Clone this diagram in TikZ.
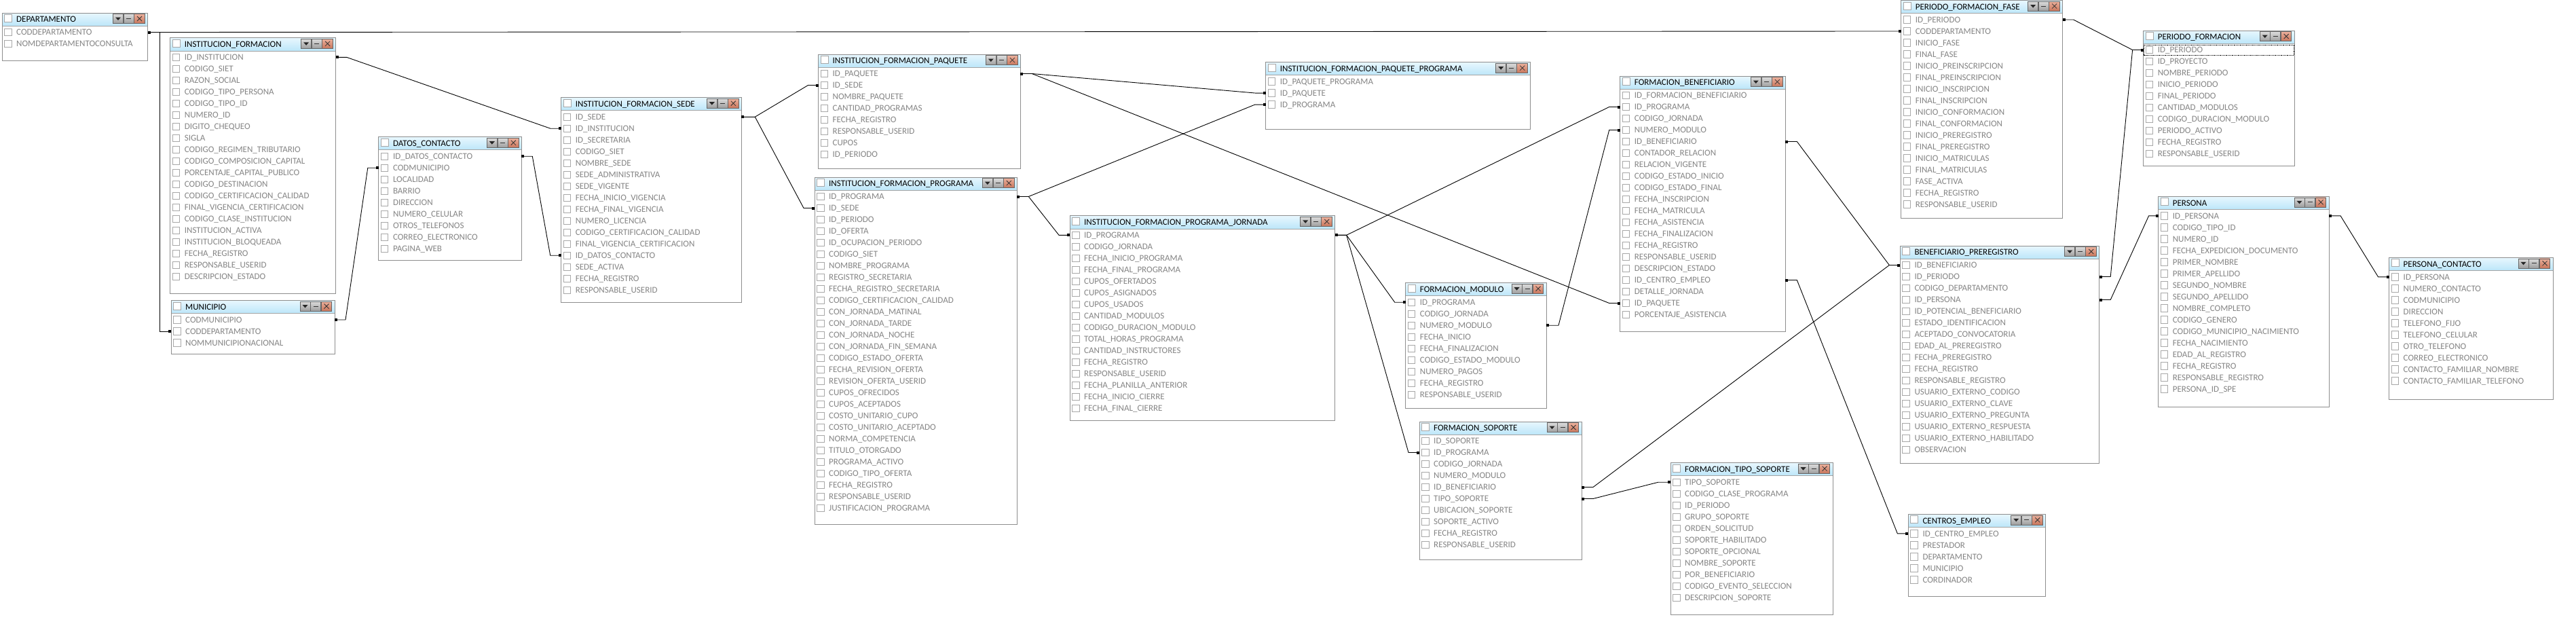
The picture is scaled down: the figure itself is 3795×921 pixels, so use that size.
\documentclass[tikz,border=0pt]{standalone}
\usepackage{fontspec}
\setmainfont{Carlito}
\usepackage{tikz}
\usetikzlibrary{arrows.meta, calc}
\definecolor{hdtop}{HTML}{E8F7FE}
\definecolor{hdbot}{HTML}{BCE6F9}
\definecolor{framegray}{HTML}{8E8E8E}
\definecolor{fieldgray}{HTML}{858585}
\definecolor{boxgray}{HTML}{A8A8A8}
\definecolor{btntop}{HTML}{DCDCDC}
\definecolor{btnbot}{HTML}{9E9E9E}
\definecolor{closetop}{HTML}{EBB09C}
\definecolor{closebot}{HTML}{C8765C}
\catcode`\_=12

\tikzset{
  tabframe/.style={draw=framegray, line width=1pt},
  chkbox/.style={draw=boxgray, line width=0.8pt, fill=white},
  fieldtext/.style={font=\fontsize{13}{15}\selectfont, text=fieldgray, inner sep=0pt, anchor=base west},
  titletext/.style={font=\fontsize{13}{15}\selectfont, text=black, inner sep=0pt, anchor=base west},
  btn/.style={draw=black!60, line width=0.6pt, top color=btntop, bottom color=btnbot},
  closebtn/.style={draw=black!60, line width=0.6pt, top color=closetop, bottom color=closebot},
  rel/.style={line width=0.9pt, >={Square[length=4pt,width=4pt]}, <->},
}

% table: id, left, top, right, bottom, title, fields
\newcommand{\dbtable}[7]{%
  \fill[white] (#2,#3) rectangle (#4,#5);
  \shade[top color=hdtop, bottom color=hdbot] (#2,#3) rectangle (#4,{#3+19});
  \draw[framegray!80, line width=0.6pt] (#2,{#3+19}) -- (#4,{#3+19});
  \draw[tabframe] (#2,#3) rectangle (#4,#5);
  \draw[chkbox] ({#2+3.5},{#3+2.5}) rectangle +(11,11);
  \node[titletext] (#1-title) at ({#2+21},{#3+13.8}) {#6};
  % window buttons
  \draw[btn] ({#4-51},{#3+1.5}) rectangle +(15,14);
  \draw[btn] ({#4-35.5},{#3+1.5}) rectangle +(15,14);
  \draw[closebtn] ({#4-20},{#3+1.5}) rectangle +(15.5,14);
  \fill[black!85] ({#4-47.5},{#3+6.5}) -- ++(8,0) -- ++(-4,4.5) -- cycle;
  \draw[black!80, line width=1pt] ({#4-31.5},{#3+8.5}) -- ++(7,0);
  \draw[black!80, line width=0.8pt] ({#4-15.5},{#3+5}) -- ++(7,7) ({#4-8.5},{#3+5}) -- ++(-7,7);
  % fields
  \foreach \f [count=\i] in {#7} {
    \draw[chkbox] ({#2+3.5},{#3+23.2+17*(\i-1)}) rectangle +(10.5,10.5);
    \node[fieldtext] (#1-\i) at ({#2+21},{#3+32.7+17*(\i-1)}) {\f};
    \coordinate (#1-\i-l) at (#2,{#3+28.5+17*(\i-1)});
    \coordinate (#1-\i-r) at (#4,{#3+28.5+17*(\i-1)});
  }
}

\begin{document}
\begin{tikzpicture}[x=1pt, y=-1pt]
    \useasboundingbox (0,0) rectangle (3795,921);
    \fill[white] (0,0) rectangle (3795,921);
    % Tables
    \dbtable{depto}{3}{19}{217.5}{89.5}{DEPARTAMENTO}{CODDEPARTAMENTO,NOMDEPARTAMENTOCONSULTA}
    \dbtable{instf}{250.7}{55.8}{494.6}{432}{INSTITUCION_FORMACION}{ID_INSTITUCION,CODIGO_SIET,RAZON_SOCIAL,CODIGO_TIPO_PERSONA,CODIGO_TIPO_ID,NUMERO_ID,DIGITO_CHEQUEO,SIGLA,CODIGO_REGIMEN_TRIBUTARIO,CODIGO_COMPOSICION_CAPITAL,PORCENTAJE_CAPITAL_PUBLICO,CODIGO_DESTINACION,CODIGO_CERTIFICACION_CALIDAD,FINAL_VIGENCIA_CERTIFICACION,CODIGO_CLASE_INSTITUCION,INSTITUCION_ACTIVA,INSTITUCION_BLOQUEADA,FECHA_REGISTRO,RESPONSABLE_USERID,DESCRIPCION_ESTADO}
    \dbtable{munic}{252}{442.5}{493}{521}{MUNICIPIO}{CODMUNICIPIO,CODDEPARTAMENTO,NOMMUNICIPIONACIONAL}
    \dbtable{datos}{557.8}{201.7}{768.3}{383.3}{DATOS_CONTACTO}{ID_DATOS_CONTACTO,CODMUNICIPIO,LOCALIDAD,BARRIO,DIRECCION,NUMERO_CELULAR,OTROS_TELEFONOS,CORREO_ELECTRONICO,PAGINA_WEB}
    \dbtable{sede}{826.7}{143.7}{1092.3}{445.7}{INSTITUCION_FORMACION_SEDE}{ID_SEDE,ID_INSTITUCION,ID_SECRETARIA,CODIGO_SIET,NOMBRE_SEDE,SEDE_ADMINISTRATIVA,SEDE_VIGENTE,FECHA_INICIO_VIGENCIA,FECHA_FINAL_VIGENCIA,NUMERO_LICENCIA,CODIGO_CERTIFICACION_CALIDAD,FINAL_VIGENCIA_CERTIFICACION,ID_DATOS_CONTACTO,SEDE_ACTIVA,FECHA_REGISTRO,RESPONSABLE_USERID}
    \dbtable{paq}{1205.5}{80}{1503.3}{248.3}{INSTITUCION_FORMACION_PAQUETE}{ID_PAQUETE,ID_SEDE,NOMBRE_PAQUETE,CANTIDAD_PROGRAMAS,FECHA_REGISTRO,RESPONSABLE_USERID,CUPOS,ID_PERIODO}
    \dbtable{prog}{1200}{261}{1498.3}{772.5}{INSTITUCION_FORMACION_PROGRAMA}{ID_PROGRAMA,ID_SEDE,ID_PERIODO,ID_OFERTA,ID_OCUPACION_PERIODO,CODIGO_SIET,NOMBRE_PROGRAMA,REGISTRO_SECRETARIA,FECHA_REGISTRO_SECRETARIA,CODIGO_CERTIFICACION_CALIDAD,CON_JORNADA_MATINAL,CON_JORNADA_TARDE,CON_JORNADA_NOCHE,CON_JORNADA_FIN_SEMANA,CODIGO_ESTADO_OFERTA,FECHA_REVISION_OFERTA,REVISION_OFERTA_USERID,CUPOS_OFRECIDOS,CUPOS_ACEPTADOS,COSTO_UNITARIO_CUPO,COSTO_UNITARIO_ACEPTADO,NORMA_COMPETENCIA,TITULO_OTORGADO,PROGRAMA_ACTIVO,CODIGO_TIPO_OFERTA,FECHA_REGISTRO,RESPONSABLE_USERID,JUSTIFICACION_PROGRAMA}
    \dbtable{paqprog}{1864.7}{91.6}{2254.7}{190}{INSTITUCION_FORMACION_PAQUETE_PROGRAMA}{ID_PAQUETE_PROGRAMA,ID_PAQUETE,ID_PROGRAMA}
    \dbtable{jorn}{1576}{317.8}{1966.7}{619}{INSTITUCION_FORMACION_PROGRAMA_JORNADA}{ID_PROGRAMA,CODIGO_JORNADA,FECHA_INICIO_PROGRAMA,FECHA_FINAL_PROGRAMA,CUPOS_OFERTADOS,CUPOS_ASIGNADOS,CUPOS_USADOS,CANTIDAD_MODULOS,CODIGO_DURACION_MODULO,TOTAL_HORAS_PROGRAMA,CANTIDAD_INSTRUCTORES,FECHA_REGISTRO,RESPONSABLE_USERID,FECHA_PLANILLA_ANTERIOR,FECHA_INICIO_CIERRE,FECHA_FINAL_CIERRE}
    \dbtable{fbenef}{2386.7}{112}{2630.3}{488.3}{FORMACION_BENEFICIARIO}{ID_FORMACION_BENEFICIARIO,ID_PROGRAMA,CODIGO_JORNADA,NUMERO_MODULO,ID_BENEFICIARIO,CONTADOR_RELACION,RELACION_VIGENTE,CODIGO_ESTADO_INICIO,CODIGO_ESTADO_FINAL,FECHA_INSCRIPCION,FECHA_MATRICULA,FECHA_ASISTENCIA,FECHA_FINALIZACION,FECHA_REGISTRO,RESPONSABLE_USERID,DESCRIPCION_ESTADO,ID_CENTRO_EMPLEO,DETALLE_JORNADA,ID_PAQUETE,PORCENTAJE_ASISTENCIA}
    \dbtable{fmod}{2070.7}{416.7}{2278}{601}{FORMACION_MODULO}{ID_PROGRAMA,CODIGO_JORNADA,NUMERO_MODULO,FECHA_INICIO,FECHA_FINALIZACION,CODIGO_ESTADO_MODULO,NUMERO_PAGOS,FECHA_REGISTRO,RESPONSABLE_USERID}
    \dbtable{fsop}{2091}{621}{2330}{824}{FORMACION_SOPORTE}{ID_SOPORTE,ID_PROGRAMA,CODIGO_JORNADA,NUMERO_MODULO,ID_BENEFICIARIO,TIPO_SOPORTE,UBICACION_SOPORTE,SOPORTE_ACTIVO,FECHA_REGISTRO,RESPONSABLE_USERID}
    \dbtable{ftsop}{2461}{681.7}{2700}{905}{FORMACION_TIPO_SOPORTE}{TIPO_SOPORTE,CODIGO_CLASE_PROGRAMA,ID_PERIODO,GRUPO_SOPORTE,ORDEN_SOLICITUD,SOPORTE_HABILITADO,SOPORTE_OPCIONAL,NOMBRE_SOPORTE,POR_BENEFICIARIO,CODIGO_EVENTO_SELECCION,DESCRIPCION_SOPORTE}
    \dbtable{pff}{2800.6}{0.5}{3038.6}{321}{PERIODO_FORMACION_FASE}{ID_PERIODO,CODDEPARTAMENTO,INICIO_FASE,FINAL_FASE,INICIO_PREINSCRIPCION,FINAL_PREINSCRIPCION,INICIO_INSCRIPCION,FINAL_INSCRIPCION,INICIO_CONFORMACION,FINAL_CONFORMACION,INICIO_PREREGISTRO,FINAL_PREREGISTRO,INICIO_MATRICULAS,FINAL_MATRICULAS,FASE_ACTIVA,FECHA_REGISTRO,RESPONSABLE_USERID}
    \dbtable{pf}{3157.6}{45}{3380.2}{244.3}{PERIODO_FORMACION}{ID_PERIODO,ID_PROYECTO,NOMBRE_PERIODO,INICIO_PERIODO,FINAL_PERIODO,CANTIDAD_MODULOS,CODIGO_DURACION_MODULO,PERIODO_ACTIVO,FECHA_REGISTRO,RESPONSABLE_USERID}
    \dbtable{bp}{2799.3}{362}{3092.7}{682.3}{BENEFICIARIO_PREREGISTRO}{ID_BENEFICIARIO,ID_PERIODO,CODIGO_DEPARTAMENTO,ID_PERSONA,ID_POTENCIAL_BENEFICIARIO,ESTADO_IDENTIFICACION,ACEPTADO_CONVOCATORIA,EDAD_AL_PREREGISTRO,FECHA_PREREGISTRO,FECHA_REGISTRO,RESPONSABLE_REGISTRO,USUARIO_EXTERNO_CODIGO,USUARIO_EXTERNO_CLAVE,USUARIO_EXTERNO_PREGUNTA,USUARIO_EXTERNO_RESPUESTA,USUARIO_EXTERNO_HABILITADO,OBSERVACION}
    \dbtable{ce}{2811.3}{757.3}{3013.7}{878.3}{CENTROS_EMPLEO}{ID_CENTRO_EMPLEO,PRESTADOR,DEPARTAMENTO,MUNICIPIO,CORDINADOR}
    \dbtable{pers}{3179.6}{289.3}{3431}{599.3}{PERSONA}{ID_PERSONA,CODIGO_TIPO_ID,NUMERO_ID,FECHA_EXPEDICION_DOCUMENTO,PRIMER_NOMBRE,PRIMER_APELLIDO,SEGUNDO_NOMBRE,SEGUNDO_APELLIDO,NOMBRE_COMPLETO,CODIGO_GENERO,CODIGO_MUNICIPIO_NACIMIENTO,FECHA_NACIMIENTO,EDAD_AL_REGISTRO,FECHA_REGISTRO,RESPONSABLE_REGISTRO,PERSONA_ID_SPE}
    \dbtable{pcont}{3519.5}{379.3}{3761}{588.3}{PERSONA_CONTACTO}{ID_PERSONA,NUMERO_CONTACTO,CODMUNICIPIO,DIRECCION,TELEFONO_FIJO,TELEFONO_CELULAR,OTRO_TELEFONO,CORREO_ELECTRONICO,CONTACTO_FAMILIAR_NOMBRE,CONTACTO_FAMILIAR_TELEFONO}
    % Selected row
    \draw[densely dotted, line width=0.8pt] ($(pf-1-l)+(1,-7.5)$) rectangle ($(pf-1-r)+(-1,7.5)$);
    % Relations
    \draw[rel] (depto-1-r) -- ++(17.5,0) |- (munic-2-l);
    \draw[rel] (depto-1-r) -- ++(17.5,0) -- ($(pff-2-l)+(-15,0)$) -- (pff-2-l);
    \draw[rel] (instf-1-r) -- ++(16,0) -- ($(sede-2-l)+(-16,0)$) -- (sede-2-l);
    \draw[rel] (munic-1-r) -- ++(16,0) -- ($(datos-2-l)+(-16,0)$) -- (datos-2-l);
    \draw[rel] (datos-1-r) -- ++(16,0) -- ($(sede-13-l)+(-16,0)$) -- (sede-13-l);
    \draw[rel] (sede-1-r) -- ++(20,0) -- ($(paq-2-l)+(-15,0)$) -- (paq-2-l);
    \draw[rel] (sede-1-r) -- ++(20,0) -- ($(prog-2-l)+(-16,0)$) -- (prog-2-l);
    \draw[rel] (paq-1-r) -- ++(17,0) -- ($(paqprog-2-l)+(-15,0)$) -- (paqprog-2-l);
    \draw[rel] (paq-1-r) -- ++(17,0) -- ($(fbenef-19-l)+(-16,0)$) -- (fbenef-19-l);
    \draw[rel] (prog-1-r) -- ++(17,0) -- ($(paqprog-3-l)+(-16,0)$) -- (paqprog-3-l);
    \draw[rel] (prog-1-r) -- ++(17,0) -- ($(jorn-1-l)+(-16,0)$) -- (jorn-1-l);
    \draw[rel] (jorn-1-r) -- ++(17,0) -- ($(fbenef-2-l)+(-16,0)$) -- (fbenef-2-l);
    \draw[rel] (jorn-1-r) -- ++(17,0) -- ($(fmod-1-l)+(-16,0)$) -- (fmod-1-l);
    \draw[rel] (jorn-1-r) -- ++(17,0) -- ($(fsop-2-l)+(-16,0)$) -- (fsop-2-l);
    \draw[rel] (fmod-3-r) -- ++(18,0) -- ($(fbenef-4-l)+(-16,0)$) -- (fbenef-4-l);
    \draw[rel] (fbenef-5-r) -- ++(17,0) -- ($(bp-1-l)+(-16,0)$) -- (bp-1-l);
    \draw[rel] (fsop-5-r) -- ++(17,0) -- ($(bp-1-l)+(-16,0)$) -- (bp-1-l);
    \draw[rel] (fsop-6-r) -- ++(17,0) -- ($(ftsop-1-l)+(-18,0)$) -- (ftsop-1-l);
    \draw[rel] (fbenef-17-r) -- ++(17,0) -- ($(ce-1-l)+(-16,0)$) -- (ce-1-l);
    \draw[rel] (pff-1-r) -- ++(16,0) -- ($(pf-1-l)+(-16,0)$) -- (pf-1-l);
    \draw[rel] (bp-2-r) -- ++(16.5,0) -- ($(pf-1-l)+(-16,0)$) -- (pf-1-l);
    \draw[rel] (bp-4-r) -- ++(16.5,0) -- ($(pers-1-l)+(-14,0)$) -- (pers-1-l);
    \draw[rel] (pers-1-r) -- ++(17,0) -- ($(pcont-1-l)+(-16,0)$) -- (pcont-1-l);
\end{tikzpicture}
\end{document}
